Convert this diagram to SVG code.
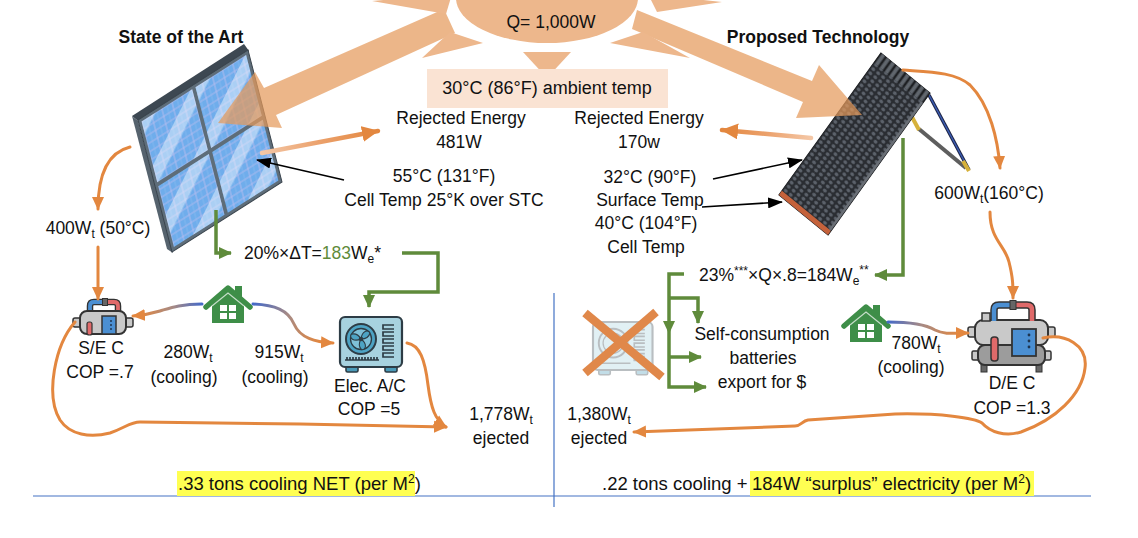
<svg xmlns="http://www.w3.org/2000/svg" width="1138" height="538" viewBox="0 0 1138 538">
<defs>
<style>
.t{font-family:"Liberation Sans",Arial,sans-serif;font-size:17.5px;fill:#111;}
.c{text-anchor:middle;}
.b{font-weight:bold;}
.big{font-size:18.5px;}
.oc{fill:none;stroke:#E3873F;stroke-width:3;stroke-linecap:round;}
.gc{fill:none;stroke:#5F8B3B;stroke-width:3.5;}
.bk{fill:none;stroke:#000;stroke-width:1.6;}
.ray{fill:#EDB78C;}
.beam{fill:#E59A5B;opacity:0.72;}
.hl{fill:#FFFF52;}
.dv{fill:none;stroke:#4472C4;stroke-width:1.2;}
</style>
<marker id="ao" markerUnits="userSpaceOnUse" viewBox="0 0 14 14" markerWidth="14" markerHeight="14" refX="12" refY="7" orient="auto"><path d="M0,1 L13,7 L0,13 z" fill="#E3873F"/></marker>
<marker id="aoBig" markerUnits="userSpaceOnUse" viewBox="0 0 18 16" markerWidth="18" markerHeight="16" refX="16" refY="8" orient="auto"><path d="M0,0 L17,8 L0,16 z" fill="#E3873F"/></marker>
<marker id="ag" markerUnits="userSpaceOnUse" viewBox="0 0 14 14" markerWidth="14" markerHeight="14" refX="12" refY="7" orient="auto"><path d="M0,1 L13,7 L0,13 z" fill="#5F8B3B"/></marker>
<marker id="ab" markerUnits="userSpaceOnUse" viewBox="0 0 15 11" markerWidth="15" markerHeight="11" refX="14" refY="5.5" orient="auto"><path d="M0,0 L15,5.5 L0,11 z" fill="#000"/></marker>
<linearGradient id="gHL" gradientUnits="userSpaceOnUse" x1="202" y1="304" x2="140" y2="316"><stop offset="0" stop-color="#4469C8"/><stop offset="0.45" stop-color="#A58A86"/><stop offset="1" stop-color="#E3873F"/></linearGradient>
<linearGradient id="gHR" gradientUnits="userSpaceOnUse" x1="253" y1="304" x2="320" y2="343"><stop offset="0" stop-color="#4469C8"/><stop offset="0.45" stop-color="#A58A86"/><stop offset="1" stop-color="#E3873F"/></linearGradient>
<linearGradient id="gH2" gradientUnits="userSpaceOnUse" x1="888" y1="322" x2="960" y2="333"><stop offset="0" stop-color="#4469C8"/><stop offset="0.45" stop-color="#A58A86"/><stop offset="1" stop-color="#E3873F"/></linearGradient>
<linearGradient id="gRL" gradientUnits="userSpaceOnUse" x1="262" y1="153" x2="380" y2="131"><stop offset="0" stop-color="#F4C7A6"/><stop offset="0.5" stop-color="#EBA06A"/><stop offset="1" stop-color="#E3873F"/></linearGradient>
<linearGradient id="gRR" gradientUnits="userSpaceOnUse" x1="811" y1="138" x2="720" y2="130"><stop offset="0" stop-color="#F4C7A6"/><stop offset="0.5" stop-color="#EBA06A"/><stop offset="1" stop-color="#E3873F"/></linearGradient>
<pattern id="cells" patternUnits="userSpaceOnUse" x="2.5" y="2.5" width="9.2" height="5.75">
<rect width="9.2" height="5.75" fill="#B7BDF0"/>
<rect x="0.35" y="0.3" width="8.5" height="5.15" fill="#6FADEC"/>
<rect x="4.45" y="0.3" width="0.3" height="5.15" fill="#9CC6F2"/>
</pattern>
<pattern id="gleam" patternUnits="userSpaceOnUse" width="30" height="30" patternTransform="rotate(-37)">
<rect width="30" height="11" fill="#FFFFFF" opacity="0.42"/>
</pattern>
<pattern id="dots" patternUnits="userSpaceOnUse" width="5" height="5">
<rect width="5" height="5" fill="#2A2D32"/>
<circle cx="2.5" cy="2.5" r="1.7" fill="#5C626B"/>
</pattern>
<pattern id="tubes" patternUnits="userSpaceOnUse" width="5" height="12">
<rect width="5" height="12" fill="#1E2023"/>
<rect x="1" width="3" height="12" fill="#60666D"/>
</pattern>
</defs>

<rect width="1138" height="538" fill="#FFFFFF"/>

<!-- left solar panel -->
<g id="node-panel-left">
<polygon points="132,116 244,44 249,51 138,121" fill="#3D4852"/>
<polygon points="132,116 138,121 173,253 167,249" fill="#56636E"/>
<g transform="matrix(1.10,-0.70,0.34,1.32,138,120)">
<rect x="0" y="0" width="100" height="100" fill="#5E6D79" stroke="#3A444D" stroke-width="0.8"/>
<rect x="2.5" y="2.5" width="46" height="46" fill="url(#cells)"/>
<rect x="51.5" y="2.5" width="46" height="46" fill="url(#cells)"/>
<rect x="2.5" y="51.5" width="46" height="46" fill="url(#cells)"/>
<rect x="51.5" y="51.5" width="46" height="46" fill="url(#cells)"/>
<rect x="2.5" y="2.5" width="46" height="46" fill="url(#gleam)"/>
<rect x="51.5" y="2.5" width="46" height="46" fill="url(#gleam)"/>
<rect x="2.5" y="51.5" width="46" height="46" fill="url(#gleam)"/>
<rect x="51.5" y="51.5" width="46" height="46" fill="url(#gleam)"/>
</g>
</g>

<!-- right (proposed) panel -->
<g id="node-panel-right">
<line x1="929" y1="95" x2="969" y2="170" stroke="#1F2647" stroke-width="3.5"/>
<line x1="929" y1="95" x2="969" y2="170" stroke="#3B5DB5" stroke-width="1.4"/>
<polyline points="919,129 966,168" fill="none" stroke="#5E5E5E" stroke-width="4"/>
<line x1="912" y1="117" x2="919" y2="130" stroke="#D6B13A" stroke-width="4"/>
<line x1="963" y1="161" x2="969" y2="171" stroke="#D6B13A" stroke-width="4"/>
<g transform="matrix(0.98,0.8,-0.583,0.811,881,53)">
<rect width="50" height="175" fill="#2A2D32" stroke="#1A1C1F" stroke-width="1"/>
<rect y="12" width="50" height="158" fill="url(#dots)"/>
<rect width="50" height="12" fill="url(#tubes)"/>
<rect y="170" width="50" height="5" fill="#C5623B"/>
<rect x="48" y="12" width="2" height="158" fill="#6A6F76"/>
</g>
</g>

<!-- solar beams -->
<g id="beams">
<polygon class="beam" points="444,9 264,88 255,72 218,123 282,128 276,115 455,33"/>
<polygon class="beam" points="637,10 812,81 819,65 862,115 796,118 803,102 632,29"/>
</g>

<!-- sun -->
<g id="node-sun">
<polygon class="ray" points="372,1 452,-6 446,14"/>
<polygon class="ray" points="422,58 450,32 483,43"/>
<polygon class="ray" points="523,52 571,52 547,78"/>
<polygon class="ray" points="610,43 643,32 690,58"/>
<polygon class="ray" points="722,2 648,-6 657,12"/>
<ellipse cx="547" cy="-2" rx="91" ry="45" fill="#EDB78C"/>
<text class="t c" x="551" y="28">Q= 1,000W</text>
</g>

<g id="node-ambient">
<rect x="427" y="69" width="241" height="39" fill="#FAE3D3"/>
<text class="t c" x="547" y="94" style="font-size:18px">30°C (86°F) ambient temp</text>
</g>

<!-- titles -->
<text class="t c b" x="181" y="43">State of the Art</text>
<text class="t c b" x="818" y="43">Proposed Technology</text>

<!-- icons -->
<g id="node-sec">
<path d="M90,316 V306 Q90,302 94,302 H103" fill="none" stroke="#333" stroke-width="6.5"/>
<path d="M90,316 V306 Q90,302 94,302 H103" fill="none" stroke="#4B8FD2" stroke-width="3.8"/>
<path d="M107,302 H114 Q118,302 118,306 V314" fill="none" stroke="#333" stroke-width="6.5"/>
<path d="M107,302 H114 Q118,302 118,306 V314" fill="none" stroke="#E06A6A" stroke-width="3.8"/>
<rect x="102.5" y="298.5" width="5" height="7" fill="#666" stroke="#333" stroke-width="1"/>
<rect x="73" y="318" width="10" height="9" rx="2" fill="#C9C9C9" stroke="#333" stroke-width="1.5"/>
<rect x="123" y="318" width="10" height="9" rx="2" fill="#C9C9C9" stroke="#333" stroke-width="1.5"/>
<rect x="80" y="311" width="46" height="23" rx="7" fill="#C9C9C9" stroke="#333" stroke-width="2"/>
<rect x="102" y="316" width="14" height="18" fill="#4B8FD2" stroke="#333" stroke-width="1.5"/>
<circle cx="111" cy="321" r="1" fill="#1F3550"/>
<circle cx="111" cy="325" r="1" fill="#1F3550"/>
<circle cx="111" cy="329" r="1" fill="#1F3550"/>
<rect x="87" y="322" width="5" height="13" rx="2" fill="#E06A6A" stroke="#333" stroke-width="1.2"/>
<text class="t c" x="101" y="354">S/E C</text>
<text class="t c" x="100" y="378">COP =.7</text>
</g>

<g id="node-house-left">
<rect x="235" y="286" width="7" height="12" fill="#3E8E48"/>
<polygon points="212,303 228,290 244,303 244,323 212,323" fill="#3E8E48"/>
<polyline points="206,307 228,288 250,307" fill="none" stroke="#3E8E48" stroke-width="5.5" stroke-linejoin="round" stroke-linecap="round"/>
<polyline points="212,306 228,293 244,306" fill="none" stroke="#FFFFFF" stroke-width="1.2" opacity="0.7"/>
<rect x="220" y="305" width="16" height="14" fill="#FFFFFF"/>
<path d="M228,305 V319 M220,312 H236" stroke="#3E8E48" stroke-width="2"/>
</g>
<use id="node-house-right" href="#node-house-left" transform="translate(638,19)"/>

<g id="node-ac">
<rect x="346" y="364" width="12" height="8" rx="1.5" fill="#4A9AB8" stroke="#2D3C45" stroke-width="1.6"/>
<rect x="385" y="364" width="12" height="8" rx="1.5" fill="#4A9AB8" stroke="#2D3C45" stroke-width="1.6"/>
<rect x="340" y="317" width="62" height="50" rx="5" fill="#A7D2DF" stroke="#2D3C45" stroke-width="2.2"/>
<circle cx="361" cy="339" r="15" fill="#4DA3C4" stroke="#2D3C45" stroke-width="2"/>
<circle cx="361" cy="339" r="10.5" fill="#7FC0D8" stroke="#2D3C45" stroke-width="1.3"/>
<path d="M361,339 C362,331 368,329 370,333 C369,337 366,339 361,339 z" fill="#4DA3C4" stroke="#2D3C45" stroke-width="1.1"/>
<path d="M361,339 C362,331 368,329 370,333 C369,337 366,339 361,339 z" fill="#4DA3C4" stroke="#2D3C45" stroke-width="1.1" transform="rotate(120 361 339)"/>
<path d="M361,339 C362,331 368,329 370,333 C369,337 366,339 361,339 z" fill="#4DA3C4" stroke="#2D3C45" stroke-width="1.1" transform="rotate(240 361 339)"/>
<circle cx="361" cy="339" r="2.3" fill="#2D3C45"/>
<g fill="none" stroke="#2D3C45" stroke-width="1.7">
<path d="M394,325 h-11 v4 h11"/>
<path d="M394,332 h-11 v4 h11"/>
<path d="M394,339 h-11 v4 h11"/>
<path d="M394,346 h-11 v4 h11"/>
<path d="M394,353 h-11 v4 h11"/>
<path d="M345,360 H379 M347,360 v-3 M350,360 v-3 M353,360 v-3 M356,360 v-3 M359,360 v-3 M362,360 v-3 M365,360 v-3 M368,360 v-3 M371,360 v-3 M374,360 v-3 M377,360 v-3"/>
</g>
<text class="t c" x="370" y="392">Elec. A/C</text>
<text class="t c" x="369" y="415">COP =5</text>
</g>

<g id="node-ac-removed">
<g opacity="0.33" transform="translate(593,322) scale(0.96) translate(-340,-317)">
<rect x="346" y="364" width="12" height="8" rx="1.5" fill="#4A9AB8" stroke="#2D3C45" stroke-width="1.6"/>
<rect x="385" y="364" width="12" height="8" rx="1.5" fill="#4A9AB8" stroke="#2D3C45" stroke-width="1.6"/>
<rect x="340" y="317" width="62" height="50" rx="5" fill="#A7D2DF" stroke="#2D3C45" stroke-width="2.2"/>
<circle cx="361" cy="339" r="15" fill="#A7D2DF" stroke="#2D3C45" stroke-width="2"/>
<circle cx="361" cy="339" r="10.5" fill="none" stroke="#2D3C45" stroke-width="1.3"/>
<g fill="none" stroke="#2D3C45" stroke-width="1.7">
<path d="M394,325 h-11 v4 h11"/>
<path d="M394,332 h-11 v4 h11"/>
<path d="M394,339 h-11 v4 h11"/>
<path d="M394,346 h-11 v4 h11"/>
<path d="M394,353 h-11 v4 h11"/>
<path d="M345,360 H379"/>
</g>
</g>
<line x1="585" y1="313" x2="662" y2="377" stroke="#E0884A" stroke-width="8.5"/>
<line x1="656" y1="312" x2="585" y2="373" stroke="#E0884A" stroke-width="8.5"/>
</g>

<g id="node-dec">
<rect x="981" y="362" width="6" height="10" fill="#666" stroke="#333" stroke-width="1"/>
<rect x="1036" y="362" width="6" height="10" fill="#666" stroke="#333" stroke-width="1"/>
<rect x="972" y="351" width="8" height="9" rx="1.5" fill="#C9C9C9" stroke="#333" stroke-width="1.5"/>
<rect x="1043" y="351" width="8" height="9" rx="1.5" fill="#C9C9C9" stroke="#333" stroke-width="1.5"/>
<rect x="978" y="345" width="67" height="20" rx="7" fill="#9C9C9C" stroke="#333" stroke-width="2"/>
<rect x="968" y="327" width="10" height="10" rx="2" fill="#C9C9C9" stroke="#333" stroke-width="1.5"/>
<rect x="1045" y="327" width="10" height="10" rx="2" fill="#C9C9C9" stroke="#333" stroke-width="1.5"/>
<rect x="975" y="320" width="73" height="25" rx="8" fill="#C9C9C9" stroke="#333" stroke-width="2"/>
<rect x="982" y="313" width="8" height="8" fill="#C9C9C9" stroke="#333" stroke-width="1.5"/>
<path d="M994,321 V310 Q994,305 999,305 H1011" fill="none" stroke="#333" stroke-width="7.5"/>
<path d="M994,321 V310 Q994,305 999,305 H1011" fill="none" stroke="#4B8FD2" stroke-width="4.5"/>
<path d="M1016,305 H1027 Q1032,305 1032,310 V321" fill="none" stroke="#333" stroke-width="7.5"/>
<path d="M1016,305 H1027 Q1032,305 1032,310 V321" fill="none" stroke="#E06A6A" stroke-width="4.5"/>
<rect x="1010" y="300.5" width="6" height="9" fill="#666" stroke="#333" stroke-width="1"/>
<rect x="1012" y="329" width="24" height="27" fill="#4B8FD2" stroke="#333" stroke-width="1.8"/>
<circle cx="1029" cy="335" r="1.4" fill="#1F3550"/>
<circle cx="1029" cy="341" r="1.4" fill="#1F3550"/>
<circle cx="1029" cy="347" r="1.4" fill="#1F3550"/>
<rect x="991" y="337" width="7" height="24" rx="3" fill="#E06A6A" stroke="#333" stroke-width="1.5"/>
<text class="t c" x="1012" y="389">D/E C</text>
<text class="t c" x="1012" y="414">COP =1.3</text>
</g>

<!-- connectors -->
<g id="connectors">
<path class="oc" d="M262,153 L378,131" style="stroke:url(#gRL);stroke-width:4.5" marker-end="url(#aoBig)"/>
<path class="oc" d="M811,138 L722,130" style="stroke:url(#gRR);stroke-width:4.5" marker-end="url(#aoBig)"/>
<path class="bk" d="M344,180 L257,160" marker-end="url(#ab)"/>
<path class="bk" d="M713,179 L802,160" marker-end="url(#ab)"/>
<path class="bk" d="M702,207 L782,202" marker-end="url(#ab)"/>
<path class="oc" d="M130,147 C110,152 98,170 98,209" marker-end="url(#ao)"/>
<path class="oc" d="M98,247 L98,299" marker-end="url(#ao)"/>
<path class="oc" d="M202,304 C180,304 170,308 160,311 C150,314 145,315 133,316" style="stroke:url(#gHL)" marker-end="url(#ao)"/>
<path class="oc" d="M253,304 C275,305 288,310 294,324 C300,338 315,342 333,343" style="stroke:url(#gHR)" marker-end="url(#ao)"/>
<path class="oc" d="M407,343 C420,345 425,360 428,385 C431,408 435,420 446,427" marker-end="url(#ao)"/>
<path class="oc" d="M75,322 C55,345 45,395 60,420 C70,435 90,438 110,433 C125,428 130,422 140,422 L300,424 L446,427" marker-end="url(#ao)"/>
<path class="oc" d="M903,70 C930,72 955,72 970,85 C990,105 998,140 1000,168" marker-end="url(#ao)"/>
<path class="oc" d="M990,212 C990,240 1005,245 1009,262 C1013,278 1013,285 1013,298" marker-end="url(#ao)"/>
<path class="oc" d="M888,322 C910,322 925,324 935,330 C945,335 955,333 968,333" style="stroke:url(#gH2)" marker-end="url(#ao)"/>
<path class="oc" d="M1043,338 C1065,333 1088,345 1085,368 C1082,395 1055,420 1021,432 C1005,437 990,432 982,423 C975,418 940,413 895,414 L808,420 C802,421 801,426 795,426 L634,432" marker-end="url(#ao)"/>
<path class="gc" d="M216,210 L216,253 L231,253" marker-end="url(#ag)"/>
<path class="gc" d="M402,253 L438,253 L438,292 L369,292 L369,307" marker-end="url(#ag)"/>
<path class="gc" d="M903,138 L903,275 L875,275" marker-end="url(#ag)"/>
<path class="gc" d="M684,274 L669,274 L669,387 L706,387" marker-end="url(#ag)"/>
<path class="gc" d="M669,298 L698,298 L698,323" marker-end="url(#ag)"/>
<path class="gc" d="M669,357 L701,357" marker-end="url(#ag)"/>
<polygon points="663,321 675,321 669,334" fill="#5F8B3B"/>
</g>

<!-- dividers -->
<g id="dividers">
<path class="dv" d="M33,496 L1091,496"/>
<path class="dv" d="M554,293 L554,507"/>
</g>

<!-- labels -->
<g id="labels">
<text class="t c" x="461" y="124">Rejected Energy</text>
<text class="t c" x="459" y="148">481W</text>
<text class="t c" x="639" y="124">Rejected Energy</text>
<text class="t c" x="639" y="148">170w</text>
<text class="t c" x="444" y="182">55°C (131°F)</text>
<text class="t c" x="444" y="206">Cell Temp 25°K over STC</text>
<text class="t c" x="650" y="183">32°C (90°F)</text>
<text class="t c" x="650" y="206">Surface Temp</text>
<text class="t c" x="646" y="229">40°C (104°F)</text>
<text class="t c" x="646" y="253">Cell Temp</text>
<text class="t c" x="98" y="234">400W<tspan font-size="12" dy="4">t</tspan><tspan dy="-4"> (50°C)</tspan></text>
<text class="t" x="244" y="259">20%×ΔT=<tspan fill="#5F8B3B">183</tspan>W<tspan font-size="12" dy="4">e</tspan><tspan dy="-4">*</tspan></text>
<text class="t c" x="989" y="199">600W<tspan font-size="12" dy="4">t</tspan><tspan dy="-4">(160°C)</tspan></text>
<text class="t" x="699" y="281">23%<tspan font-size="12" dy="-6">***</tspan><tspan dy="6">×Q×.8=184W</tspan><tspan font-size="12" dy="4">e</tspan><tspan font-size="12" dy="-11">**</tspan></text>
<text class="t c" x="188" y="358">280W<tspan font-size="12" dy="4">t</tspan></text>
<text class="t c" x="184" y="383">(cooling)</text>
<text class="t c" x="279" y="358">915W<tspan font-size="12" dy="4">t</tspan></text>
<text class="t c" x="275" y="383">(cooling)</text>
<text class="t c" x="501" y="420">1,778W<tspan font-size="12" dy="4">t</tspan></text>
<text class="t c" x="501" y="444">ejected</text>
<text class="t c" x="762" y="340">Self-consumption</text>
<text class="t c" x="763" y="364">batteries</text>
<text class="t c" x="762" y="388">export for $</text>
<text class="t c" x="916" y="349">780W<tspan font-size="12" dy="4">t</tspan></text>
<text class="t c" x="911" y="373">(cooling)</text>
<text class="t c" x="599" y="420">1,380W<tspan font-size="12" dy="4">t</tspan></text>
<text class="t c" x="599" y="444">ejected</text>
</g>

<g id="summary">
<rect class="hl" x="177" y="471" width="238" height="25"/>
<text class="t big" x="178" y="490">.33 tons cooling NET (per M<tspan font-size="12" dy="-7">2</tspan><tspan dy="7">)</tspan></text>
<rect class="hl" x="750" y="471" width="284" height="25"/>
<text class="t big" x="602" y="490">.22 tons cooling + </text>
<text class="t big" x="752" y="490">184W “surplus” electricity (per M<tspan font-size="12" dy="-7">2</tspan><tspan dy="7">)</tspan></text>
</g>
</svg>
